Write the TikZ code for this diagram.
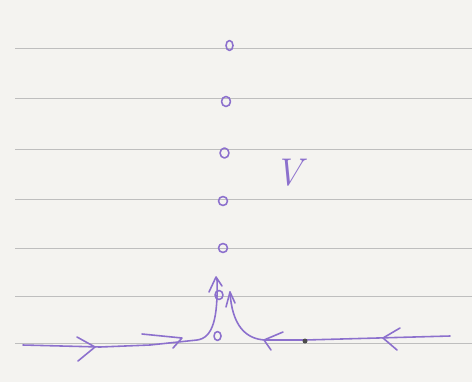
\documentclass[tikz,border=0pt]{standalone}
\usetikzlibrary{arrows.meta}
\definecolor{pen}{RGB}{140,112,205}
\definecolor{paper}{RGB}{244,243,240}
\definecolor{rule}{RGB}{190,190,190}
\tikzset{
  ruled/.style={draw=rule, line width=0.5pt},
  ink/.style={draw=pen, line width=0.9pt, line cap=round, line join=round},
  dotc/.style={ink},
}
\begin{document}
\begin{tikzpicture}[x=0.02cm,y=-0.02cm]
\fill[paper] (0,0) rectangle (472,382);
\useasboundingbox (0,0) rectangle (472,382);
% ruled lines
\foreach \yy in {48,98,149,199,248,296,343}
  \draw[ruled] (15,\yy) -- (472,\yy);
% circles
\draw[dotc] (229.5,45.5) ellipse [x radius=0.07cm, y radius=0.1cm];
\draw[dotc] (226,101.5) ellipse [x radius=0.09cm, y radius=0.1cm];
\draw[dotc] (224.5,153) ellipse [x radius=0.09cm, y radius=0.1cm];
\draw[dotc] (223,201) ellipse [x radius=0.09cm, y radius=0.09cm];
\draw[dotc] (223,248) ellipse [x radius=0.09cm, y radius=0.09cm];
\draw[dotc] (219,295) ellipse [x radius=0.08cm, y radius=0.09cm];
\draw[dotc] (217.5,336) ellipse [x radius=0.07cm, y radius=0.09cm];
% V label
\node[text=pen, font=\fontsize{22}{22}\selectfont\itshape, inner sep=0pt] (vlabel) at (289,173) {V};
% left branch
\coordinate (l0) at (23,345);
\coordinate (l1) at (197,340);
\coordinate (ltop) at (217,279);
\draw[ink] (l0) -- (100,347) -- (150,345) -- (l1) .. controls (213,338) and (218,318) .. (ltop);
% arrows on left
\draw[ink] (77,337) -- (95,347) -- (78,361);
\draw[ink] (142,334) -- (182,338) -- (173,348);
\draw[ink] (209,292) -- (216,277) -- (222,286);
% right branch
\coordinate (rtop) at (230,292);
\coordinate (r1) at (265,340);
\coordinate (rend) at (450,336);
\draw[ink] (rtop) .. controls (232,326) and (246,339) .. (r1) -- (305,340) -- (rend);
\draw[ink] (226,307) -- (230,292) -- (235,303);
\draw[ink] (283,332) -- (264,340) -- (271,350);
\draw[ink] (400,328) -- (383,338) -- (397,350);
\fill[black!70] (305,341) circle [radius=0.05cm];
\end{tikzpicture}
\end{document}
